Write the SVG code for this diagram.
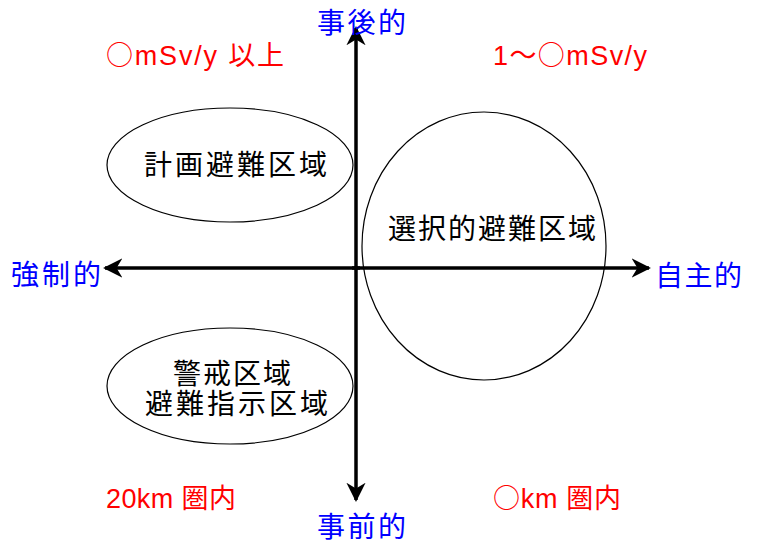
<svg xmlns="http://www.w3.org/2000/svg" width="757" height="544" viewBox="0 0 757 544">
<style>
.zone{fill:none;stroke:#000;stroke-width:1.2}
.ax{stroke:#000;stroke-width:3.5;fill:none}
.t{font-family:"Liberation Sans","Noto Sans CJK JP",sans-serif;font-size:28px}
.c{font-family:"Noto Sans CJK JP",sans-serif}
.blk{fill:#000}
.blue{fill:#0000ff}
.red{fill:#ff0000;font-size:27px}
</style>
<defs>
<marker id="ah" viewBox="0 0 10 10" refX="9" refY="5" markerWidth="5.5" markerHeight="5.5" orient="auto" markerUnits="strokeWidth">
<path d="M0,0 L10,5 L0,10 L3,5 z" fill="#000"/>
</marker>
</defs>
<rect width="757" height="544" fill="#fff"/>
<g id="connectors">
<line class="ax" x1="356" y1="270" x2="356" y2="28" marker-end="url(#ah)"/>
<line class="ax" x1="356" y1="266" x2="356" y2="500" marker-end="url(#ah)"/>
<line class="ax" x1="360" y1="268" x2="105" y2="268" marker-end="url(#ah)"/>
<line class="ax" x1="352" y1="268" x2="649" y2="268" marker-end="url(#ah)"/>
</g>
<g id="axis-top"><text class="t blue" x="317" y="33" textLength="89" lengthAdjust="spacing">事後的</text></g>
<g id="axis-bottom"><text class="t blue" x="317" y="537" textLength="89" lengthAdjust="spacing">事前的</text></g>
<g id="axis-left"><text class="t blue" x="11" y="285" textLength="90" lengthAdjust="spacing">強制的</text></g>
<g id="axis-right"><text class="t blue" x="655" y="286" textLength="87" lengthAdjust="spacing">自主的</text></g>
<g id="label-tl"><text class="t red" x="106" y="65" textLength="178" lengthAdjust="spacing"><tspan class="c">○</tspan>mSv/y 以上</text></g>
<g id="label-tr"><text class="t red" x="493" y="65" textLength="154" lengthAdjust="spacing">1～<tspan class="c">○</tspan>mSv/y</text></g>
<g id="label-bl"><text class="t red" x="106" y="508" textLength="130" lengthAdjust="spacing">20km 圏内</text></g>
<g id="label-br"><text class="t red" x="493" y="508" textLength="128" lengthAdjust="spacing"><tspan class="c">○</tspan>km 圏内</text></g>
<g id="planned">
<ellipse class="zone" cx="230" cy="165" rx="123" ry="57"/>
<text class="t blk" x="144" y="175" textLength="183" lengthAdjust="spacing">計画避難区域</text>
</g>
<g id="voluntary">
<ellipse class="zone" cx="484" cy="246" rx="122" ry="134"/>
<text class="t blk" x="388" y="239" textLength="208" lengthAdjust="spacing">選択的避難区域</text>
</g>
<g id="warning">
<ellipse class="zone" cx="230" cy="386" rx="123" ry="58"/>
<text class="t blk" x="173" y="384" textLength="118" lengthAdjust="spacing">警戒区域</text>
<text class="t blk" x="145" y="414" textLength="183" lengthAdjust="spacing">避難指示区域</text>
</g>
</svg>
